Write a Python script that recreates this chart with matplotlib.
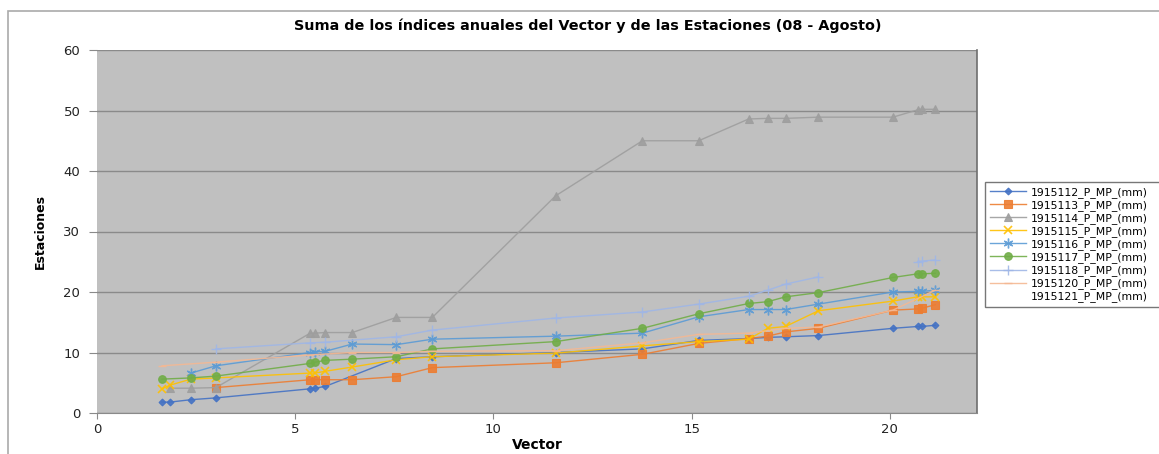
import numpy as np
import matplotlib
matplotlib.use("Agg")
import matplotlib.pyplot as plt
from matplotlib.patches import Rectangle

nan = float("nan")

# Sum of annual indices: Vector (x) against each station (y).
# None = blank cell (line connects over it), nan = break in the line.
vector = [1.64, 1.84, 2.37, 3.0, 5.38, 5.5, 5.76, 6.44, 7.55, 8.46, 11.57,
          13.76, 15.18, 16.44, 16.92, 17.37, 18.2, 20.08, 20.7, 20.8, 21.15]

s1915112 = [1.8, 1.8, 2.2, 2.5, 4.0, 4.1, 4.4, None, 9.0, 9.3, 10.0,
            10.6, 12.0, 12.3, 12.5, 12.6, 12.8, 14.0, 14.3, 14.3, 14.5]
s1915113 = [None, None, None, 4.2, 5.5, 5.5, 5.5, 5.5, 6.0, 7.5, 8.3,
            9.7, 11.5, 12.3, 12.7, 13.4, 14.0, 17.0, 17.2, 17.3, 17.9]
s1915114 = [None, 4.1, 4.1, 4.2, 13.2, 13.2, 13.3, 13.3, 15.8, 15.8, 35.9,
            45.0, 45.0, 48.6, 48.7, 48.7, 48.9, 48.9, 50.1, 50.2, 50.2]
s1915115 = [4.0, 4.6, 5.6, 5.8, 6.6, 6.6, 6.9, 7.6, 8.8, 9.3, 9.9,
            11.1, 11.8, 12.2, 14.0, 14.3, 16.9, 18.5, 19.2, 19.2, 19.2]
s1915116 = [None, None, 6.6, 7.8, 10.0, 10.1, 10.2, 11.4, 11.3, 12.2, 12.7,
            13.2, 15.9, 17.1, 17.1, 17.1, 18.0, 20.0, 20.1, 20.1, 20.3]
s1915117 = [5.6, None, 5.8, 6.1, 8.2, 8.4, 8.7, 8.9, 9.3, 10.6, 11.8,
            14.0, 16.4, 18.1, 18.4, 19.2, 19.9, 22.4, 23.0, 23.0, 23.1]
s1915118 = [None, None, None, 10.6, 11.6, None, 11.7, None, 12.6, 13.7, 15.7,
            16.7, 18.0, 19.3, 20.3, 21.3, 22.5, nan, 25.0, 25.1, 25.3]
s1915120 = [7.8, None, None, 8.4, 9.6, None, None, 10.0, 10.0, 10.2, 10.3,
            11.6, 13.0, 13.2, None, 14.0, 14.2, 17.0, None, None, 20.3]
s1915121 = [None] * len(vector)

labels = ["1915112_P_MP_(mm)", "1915113_P_MP_(mm)", "1915114_P_MP_(mm)",
          "1915115_P_MP_(mm)", "1915116_P_MP_(mm)", "1915117_P_MP_(mm)",
          "1915118_P_MP_(mm)", "1915120_P_MP_(mm)", "1915121_P_MP_(mm)"]
series = [s1915112, s1915113, s1915114, s1915115, s1915116, s1915117,
          s1915118, s1915120, s1915121]

styles = [
    dict(color="#4472C4", marker="D", ms=3.5),
    dict(color="#ED7D31", marker="s", ms=5.5),
    dict(color="#9E9E9E", marker="^", ms=5.5),
    dict(color="#FFC000", marker="x", ms=6, mew=1.2),
    dict(color="#5B9BD5", marker=(6, 2, 0), ms=7, mew=1.0),
    dict(color="#70AD47", marker="o", ms=5.5),
    dict(color="#9FB6E6", marker="+", ms=7, mew=1.0),
    dict(color="#F4B893", marker="_", ms=6, mew=1.0),
    dict(color="none", marker="", ms=0),
]

fig = plt.figure(figsize=(11.59, 4.54), dpi=100)
ax = fig.add_axes([97 / 1159, 41 / 454, 880 / 1159, 363 / 454])
ax.set_facecolor("#C0C0C0")

for vals, lab, st in zip(series, labels, styles):
    xs = [x for x, v in zip(vector, vals) if v is not None]
    ys = [v for v in vals if v is not None]
    ax.plot(xs, ys, lw=1.0, label=lab, alpha=0.9,
            color=st["color"], marker=st["marker"], ms=st["ms"],
            mew=st.get("mew", 0.8), linestyle="-" if st["marker"] else "none")

ax.set_xlim(0, 22.2)
ax.set_ylim(0, 60)
ax.set_xticks([0, 5, 10, 15, 20])
ax.set_yticks(range(0, 61, 10))
ax.yaxis.grid(True, color="#8A8A8A", lw=1.0)
ax.set_axisbelow(True)
for side in ["top", "left"]:
    ax.spines[side].set_visible(False)
ax.spines["bottom"].set_color("#8A8A8A")
ax.spines["right"].set_color("#6E6E6E")
ax.spines["right"].set_linewidth(1.2)
ax.tick_params(axis="both", colors="#8A8A8A", labelcolor="#222222",
               labelsize=9.5, length=4, direction="out")
ax.tick_params(axis="y", length=6, pad=6)

ax.set_xlabel("Vector", fontsize=10, fontweight="bold", labelpad=1)
ax.set_ylabel("Estaciones", fontsize=9, fontweight="bold", labelpad=12,
              family=["Liberation Sans Narrow", "DejaVu Sans"])
fig.text(588 / 1159, 1 - 26 / 454,
         "Suma de los índices anuales del Vector y de las Estaciones (08 - Agosto)",
         ha="center", va="center", fontsize=10.4, fontweight="bold")

leg = fig.legend(loc="upper left",
                 bbox_to_anchor=(985 / 1159, 0, 200 / 1159, 1 - 182 / 454),
                 mode="expand", fontsize=7.8, frameon=True, fancybox=False,
                 edgecolor="#555555", handlelength=3.3, labelspacing=0.2,
                 borderpad=0.45, handletextpad=0.5, borderaxespad=0)
leg.get_frame().set_linewidth(1.0)

# chart border
fig.patches.append(Rectangle((8 / 1159, -0.02), 1.1, 1 - 11 / 454 + 0.02,
                             transform=fig.transFigure, fill=False,
                             edgecolor="#AAAAAA", lw=1.2))

fig.savefig("out.png", dpi=100, facecolor="white")
